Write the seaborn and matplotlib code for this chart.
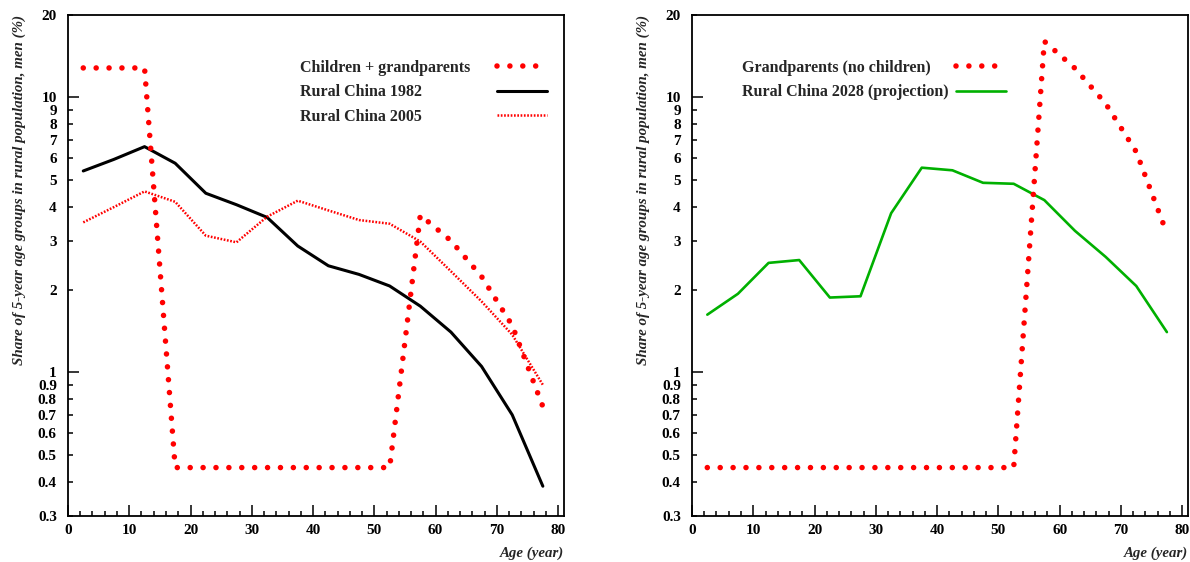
import numpy as np
import pandas as pd
import matplotlib
matplotlib.use("Agg")
import matplotlib.pyplot as plt
from matplotlib.ticker import FixedLocator, FuncFormatter, MultipleLocator
import seaborn as sns

# ---------------- data ----------------
ages = [2.5, 7.5, 12.5, 17.5, 22.5, 27.5, 32.5, 37.5,
        42.5, 47.5, 52.5, 57.5, 62.5, 67.5, 72.5, 77.5]

children_grandparents = [12.8, 12.8, 12.8, 0.45, 0.45, 0.45, 0.45, 0.45,
                         0.45, 0.45, 0.45, 3.73, 3.01, 2.23, 1.48, 0.75]
rural_1982 = [5.40, 5.95, 6.62, 5.76, 4.48, 4.07, 3.66, 2.88,
              2.44, 2.27, 2.06, 1.74, 1.40, 1.05, 0.70, 0.385]
rural_2005 = [3.51, 3.99, 4.55, 4.17, 3.14, 2.97, 3.68, 4.21,
              3.88, 3.58, 3.47, 2.99, 2.33, 1.81, 1.37, 0.90]

grandparents_only = [0.45, 0.45, 0.45, 0.45, 0.45, 0.45, 0.45, 0.45,
                     0.45, 0.45, 0.45, 16.0, 12.76, 9.5, 6.34, 3.2]
rural_2028 = [1.62, 1.93, 2.50, 2.56, 1.87, 1.89, 3.79, 5.55,
              5.43, 4.89, 4.85, 4.23, 3.27, 2.63, 2.06, 1.40]

y_major = [1, 10]
y_minor = [0.3, 0.4, 0.5, 0.6, 0.7, 0.8, 0.9, 2, 3, 4, 5, 6, 7, 8, 9, 20]

labels_left = ["Children + grandparents", "Rural China 1982", "Rural China 2005"]
labels_right = ["Grandparents (no children)", "Rural China 2028 (projection)"]
ylabel_text = "Share of 5-year age groups in rural population, men (%)"
xlabel_text = "Age (year)"

df = pd.DataFrame({
    "age": ages,
    "cg": children_grandparents,
    "r1982": rural_1982,
    "r2005": rural_2005,
    "gp": grandparents_only,
    "r2028": rural_2028,
})

# ---------------- style ----------------
sns.set_style("ticks")
plt.rcParams['font.family'] = ['Liberation Serif', 'DejaVu Serif']
plt.rcParams['font.weight'] = 'bold'
plt.rcParams['axes.linewidth'] = 1.3

fig = plt.figure(figsize=(11.9, 5.62), dpi=100)
ax1 = fig.add_axes([0.0571, 0.0819, 0.4171, 0.892])
ax2 = fig.add_axes([0.5815, 0.0819, 0.4171, 0.892])

DOTS = dict(color='red', linewidth=4.0, linestyle=(0, (0.001, 2.32)),
            dash_capstyle='round')
FINE = dict(color='red', linewidth=1.8, linestyle=(0, (0.68, 0.64)))
BLACK = dict(color='black', linewidth=2.2)
GREEN = dict(color='#00b000', linewidth=1.9)
common = dict(estimator=None, errorbar=None, legend=False, sort=False)

sns.lineplot(data=df, x="age", y="r1982", ax=ax1, **BLACK, **common)
sns.lineplot(data=df, x="age", y="r2005", ax=ax1, **FINE, **common)
sns.lineplot(data=df, x="age", y="cg", ax=ax1, **DOTS, **common)

sns.lineplot(data=df, x="age", y="r2028", ax=ax2, **GREEN, **common)
sns.lineplot(data=df, x="age", y="gp", ax=ax2, **DOTS, **common)


def style(ax):
    ax.set_yscale('log')
    ax.set_xlim(0, 81)
    ax.set_ylim(0.3, 20)
    fmt = FuncFormatter(lambda v, p: f"{v:g}")
    ax.yaxis.set_major_locator(FixedLocator(y_major))
    ax.yaxis.set_minor_locator(FixedLocator(y_minor))
    ax.yaxis.set_major_formatter(fmt)
    ax.yaxis.set_minor_formatter(fmt)
    ax.xaxis.set_major_locator(MultipleLocator(10))
    ax.xaxis.set_minor_locator(MultipleLocator(2))
    ax.tick_params(which='both', direction='in', top=False, right=False,
                   labelsize=11, width=1.1, color='black', labelcolor='black')
    ax.tick_params(which='major', length=8)
    ax.tick_params(which='minor', length=3.6)
    ax.tick_params(axis='y', which='both', pad=8)
    ax.tick_params(axis='x', which='both', pad=6)
    for lab in (ax.get_xticklabels(which='both') + ax.get_yticklabels(which='both')):
        lab.set_fontweight('bold')
        lab.set_family('Liberation Serif')
    for s in ax.spines.values():
        s.set_visible(True)
        s.set_color('black')
        s.set_linewidth(1.3)
    ax.set_ylabel(ylabel_text, fontsize=10.8, fontstyle='italic',
                  fontweight='bold', family='Liberation Serif', loc='top')
    ax.yaxis.set_label_coords(-0.085, 1.0)
    ax.set_xlabel(xlabel_text, fontsize=10.7, fontstyle='italic',
                  fontweight='bold', family='Liberation Serif', loc='right')
    ax.xaxis.set_label_coords(1.0, -0.061)


style(ax1)
style(ax2)


def two_part_legend(ax, handles, labels, text_x, handle_x, top_y):
    base = dict(loc='upper left', frameon=False, borderpad=0, borderaxespad=0,
                labelspacing=0.52,
                prop=dict(family='Liberation Serif', weight='bold', size=11.5))
    leg_t = ax.legend(handles, labels, bbox_to_anchor=(text_x, top_y),
                      handlelength=0, handletextpad=0, **base)
    for h in leg_t.legend_handles:
        h.set_visible(False)
    ax.add_artist(leg_t)
    ax.legend(handles, [''] * len(handles), bbox_to_anchor=(handle_x, top_y),
              handlelength=3.1, handletextpad=0, **base)


l1 = ax1.get_lines()  # order: 1982, 2005, dots
two_part_legend(ax1, [l1[2], l1[0], l1[1]], labels_left, 0.4675, 0.8645, 0.9096)
l2 = ax2.get_lines()  # order: 2028, dots
two_part_legend(ax2, [l2[1], l2[0]], labels_right, 0.1007, 0.5325, 0.9096)

fig.savefig("out.png", dpi=100)
